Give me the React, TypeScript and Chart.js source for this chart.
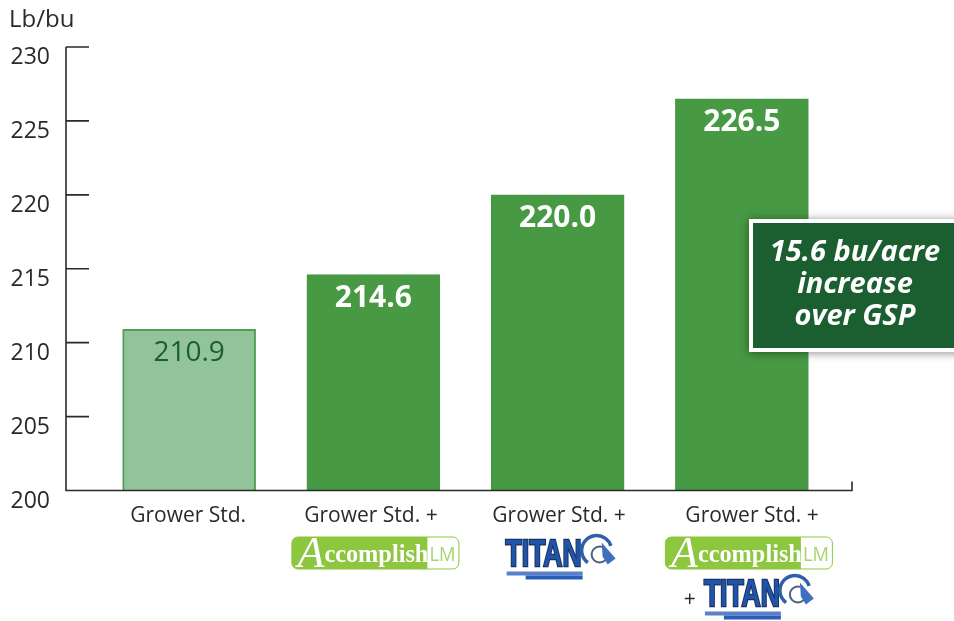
import React, { useEffect, useRef } from "react";
import { Chart, registerables } from "chart.js";

Chart.register(...registerables);

const categories = ["Grower Std.", "Grower Std. +", "Grower Std. +", "Grower Std. +"];
const yieldValues = [210.9, 214.6, 220.0, 226.5];
const valueLabels = ["210.9", "214.6", "220.0", "226.5"];
const barFills = ["#93c39a", "#479943", "#479943", "#479943"];
const barBorders = ["#52a052", "#479943", "#479943", "#479943"];
const labelNudges = [-1, -2.4, 1.4, 10.2];
const unitTitle = "Lb/bu";
const calloutLines = ["15.6 bu/acre", "increase", "over GSP"];

const FONT = '"Open Sans"';
const INK = "#2b2a2b";

function accomplishLogo(ctx: CanvasRenderingContext2D, x: number, y: number) {
  const w = 167, h = 32;
  ctx.save();
  ctx.beginPath();
  ctx.roundRect(x + 0.5, y + 0.5, w, h, 6);
  ctx.fillStyle = "#ffffff";
  ctx.fill();
  ctx.save();
  ctx.clip();
  ctx.fillStyle = "#8dc63f";
  ctx.fillRect(x, y, 136, h + 1);
  ctx.restore();
  ctx.strokeStyle = "#8dc63f";
  ctx.lineWidth = 1;
  ctx.stroke();
  ctx.fillStyle = "#ffffff";
  ctx.textAlign = "left";
  ctx.textBaseline = "alphabetic";
  ctx.font = 'italic 44px "Liberation Serif"';
  ctx.fillText("A", x + 6, y + 30);
  ctx.font = 'bold 25px "Liberation Serif"';
  ctx.fillText("ccomplish", x + 33, y + 25, 104);
  ctx.fillStyle = "#a6d46a";
  ctx.font = `20px ${FONT}`;
  ctx.fillText("LM", x + 138, y + 24, 26);
  ctx.restore();
}

function titanLogo(ctx: CanvasRenderingContext2D, x: number, y: number) {
  ctx.save();
  ctx.textAlign = "left";
  ctx.textBaseline = "alphabetic";
  ctx.font = 'bold 36px "Liberation Sans"';
  ctx.lineWidth = 2.5;
  ctx.strokeStyle = "#1c2f5e";
  ctx.strokeText("TITAN", x + 2, y + 31, 76);
  ctx.fillStyle = "#1f55a8";
  ctx.fillText("TITAN", x + 2, y + 31, 76);
  ctx.strokeStyle = "#2f5fa8";
  ctx.lineWidth = 3.5;
  ctx.beginPath();
  ctx.arc(x + 93, y + 16, 15, Math.PI * 0.7, Math.PI * 1.9);
  ctx.stroke();
  ctx.lineWidth = 2;
  ctx.strokeStyle = "#4a5f80";
  ctx.beginPath();
  ctx.arc(x + 96, y + 20, 8, 0, Math.PI * 1.6);
  ctx.stroke();
  ctx.fillStyle = "#3f6fc0";
  ctx.beginPath();
  ctx.moveTo(x + 98, y + 8);
  ctx.lineTo(x + 112, y + 24);
  ctx.lineTo(x + 104, y + 30);
  ctx.lineTo(x + 99, y + 22);
  ctx.closePath();
  ctx.fill();
  ctx.fillStyle = "#5a80cc";
  ctx.fillRect(x + 3, y + 37, 76, 4);
  ctx.fillStyle = "#2a5cb8";
  ctx.fillRect(x + 22, y + 41, 57, 4);
  ctx.restore();
}

const decorations = {
  id: "decorations",
  afterDatasetsDraw(chart: any) {
    const { ctx, chartArea, scales } = chart;
    const { x: xs, y: ys } = scales;
    const axisLeft = chartArea.left - 31;
    const axisRight = chartArea.right + 18;
    ctx.save();
    ctx.strokeStyle = INK;
    ctx.lineWidth = 1.6;
    ctx.beginPath();
    ctx.moveTo(axisLeft, chartArea.top);
    ctx.lineTo(axisLeft, chartArea.bottom);
    ctx.lineTo(axisRight, chartArea.bottom);
    ctx.lineTo(axisRight, chartArea.bottom - 9);
    ys.ticks.forEach((_: any, i: number) => {
      const py = ys.getPixelForTick(i);
      ctx.moveTo(axisLeft, py);
      ctx.lineTo(axisLeft + 23, py);
    });
    ctx.stroke();

    // value labels inside bars
    const meta = chart.getDatasetMeta(0);
    ctx.textAlign = "center";
    ctx.textBaseline = "middle";
    meta.data.forEach((bar: any, i: number) => {
      ctx.fillStyle = i === 0 ? "#1b5e30" : "#ffffff";
      ctx.font = i === 0 ? `28px ${FONT}` : `bold 30px ${FONT}`;
      ctx.fillText(valueLabels[i], bar.x, bar.y + 24);
    });

    // category labels
    ctx.fillStyle = INK;
    ctx.font = `21px ${FONT}`;
    categories.forEach((c, i) => {
      ctx.fillText(c, xs.getPixelForTick(i) + labelNudges[i], chartArea.bottom + 26);
    });

    // brand logos under the labels
    const c1 = xs.getPixelForTick(1);
    const c2 = xs.getPixelForTick(2);
    const c3 = xs.getPixelForTick(3);
    accomplishLogo(ctx, c1 - 82, chartArea.bottom + 46);
    titanLogo(ctx, c2 - 54, chartArea.bottom + 44);
    accomplishLogo(ctx, c3 - 77, chartArea.bottom + 46);
    ctx.fillStyle = INK;
    ctx.font = `21px ${FONT}`;
    ctx.textAlign = "center";
    ctx.fillText("+", c3 - 52, chartArea.bottom + 110);
    titanLogo(ctx, c3 - 40, chartArea.bottom + 84);

    // callout box
    ctx.save();
    ctx.shadowColor = "rgba(0,0,0,0.45)";
    ctx.shadowBlur = 9;
    ctx.shadowOffsetY = 1;
    ctx.fillStyle = "#ffffff";
    ctx.fillRect(749, 219, 215, 133);
    ctx.restore();
    ctx.fillStyle = "#1b5e30";
    ctx.fillRect(753, 223, 205, 125);
    ctx.fillStyle = "#ffffff";
    ctx.font = `italic bold 29px ${FONT}`;
    ctx.textAlign = "center";
    calloutLines.forEach((line, i) => {
      ctx.fillText(line, 855, 253 + i * 32);
    });
    ctx.restore();
  },
};

export default function App() {
  const ref = useRef<HTMLCanvasElement | null>(null);
  useEffect(() => {
    const chart = new Chart(ref.current!, {
      type: "bar",
      data: {
        labels: categories,
        datasets: [
          {
            label: "Yield",
            data: yieldValues,
            backgroundColor: barFills,
            borderColor: barBorders,
            borderWidth: 2,
            barThickness: 133,
          },
        ],
      },
      options: {
        responsive: false,
        animation: false,
        layout: { autoPadding: false, padding: { left: 9, right: 120, top: 0, bottom: 130.5 } },
        plugins: {
          legend: { display: false },
          tooltip: { enabled: false },
          title: {
            display: true,
            text: unitTitle,
            align: "start",
            color: INK,
            font: { family: FONT, size: 24, weight: "normal", lineHeight: 1.2 },
            padding: { top: 6, bottom: 12.2 },
          },
        },
        scales: {
          x: {
            display: true,
            grid: { display: false, drawTicks: false },
            border: { display: false },
            ticks: { display: false },
          },
          y: {
            min: 200,
            max: 230,
            afterFit: (s: any) => {
              s.width = 88;
            },
            grid: { display: false, drawTicks: true, tickLength: 47 },
            border: { display: false },
            ticks: {
              stepSize: 5,
              color: INK,
              padding: 0,
              labelOffset: 10.5,
              font: { family: FONT, size: 23 },
            },
          },
        },
      },
      plugins: [decorations],
    } as any);
    return () => chart.destroy();
  }, []);
  return (
    <div style={{ position: "absolute", left: 0, top: 0, width: 954, height: 621, overflow: "hidden", background: "#fff" }}>
      <canvas ref={ref} width={954} height={621} style={{ display: "block" }} />
    </div>
  );
}
